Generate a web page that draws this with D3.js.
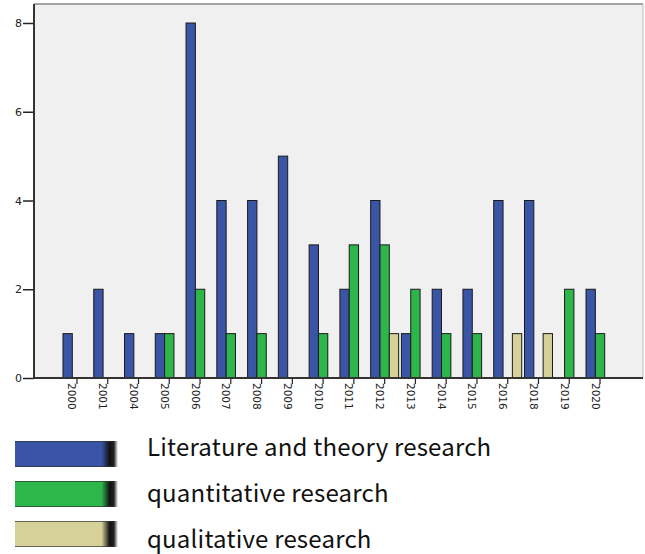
<!DOCTYPE html>
<html><head><meta charset="utf-8">
<script src="https://cdn.jsdelivr.net/npm/d3@7"></script>
<style>body{margin:0;background:#fff}svg{display:block}</style>
</head><body>
<svg id="c" width="645" height="554"></svg>
<script>
const years = ["2000","2001","2004","2005","2006","2007","2008","2009","2010","2011","2012","2013","2014","2015","2016","2018","2019","2020"];
const literature = [1,2,1,1,8,4,4,5,3,2,4,1,2,2,4,4,0,2];
const quantitative = [0,0,0,1,2,1,1,0,1,3,3,2,1,1,0,0,2,1];
const qualitative = [0,0,0,0,0,0,0,0,0,0,1,0,0,0,1,1,0,0];
const seriesNames = ["Literature and theory research","quantitative research","qualitative research"];
const colors = ["#3a55a6","#2db74b","#d6d199"];
const yTicks = [0,2,4,6,8];

const svg = d3.select("#c");
const plot = {l:34, r:643, t:4, b:378};
svg.append("rect").attr("x",plot.l).attr("y",plot.t).attr("width",plot.r-plot.l).attr("height",plot.b-plot.t).attr("fill","#f0f0f0");
svg.append("line").attr("x1",plot.l).attr("x2",plot.r).attr("y1",plot.t).attr("y2",plot.t).attr("stroke","#888").attr("stroke-width",1.5);
svg.append("line").attr("x1",plot.r).attr("x2",plot.r).attr("y1",plot.t).attr("y2",plot.b).attr("stroke","#bbb").attr("stroke-width",1);

const x = d3.scaleBand().domain(years).range([61.6,615.4]).paddingInner(0.09).paddingOuter(0.045);
const y = d3.scaleLinear().domain([0,8]).range([378,23]);
const series = [literature, quantitative, qualitative];
const xs = d3.scaleBand().domain([0,1,2]).range([0,x.bandwidth()]);

series.forEach((vals,si)=>{
  svg.append("g").selectAll("rect").data(vals.map((v,i)=>({v,yr:years[i]})).filter(d=>d.v>0))
    .join("rect")
    .attr("x",d=>x(d.yr)+xs(si))
    .attr("y",d=>y(d.v))
    .attr("width",xs.bandwidth())
    .attr("height",d=>y(0)-y(d.v))
    .attr("fill",colors[si]).attr("stroke","#1a1a1a").attr("stroke-width",1);
});

// axes
const yAxis = svg.append("g").attr("transform",`translate(${plot.l},0)`)
  .call(d3.axisLeft(y).tickValues(yTicks).tickSize(11).tickSizeOuter(0).tickPadding(1));
yAxis.select(".domain").remove();
yAxis.selectAll("text").attr("font-family","DejaVu Sans").attr("font-size",11).attr("fill","#222");
yAxis.selectAll("line").attr("stroke","#222").attr("stroke-width",1.5);
svg.append("line").attr("x1",plot.l).attr("x2",plot.l).attr("y1",plot.t).attr("y2",plot.b+1).attr("stroke","#333").attr("stroke-width",2);

const xAxis = svg.append("g").attr("transform",`translate(0,${plot.b})`)
  .call(d3.axisBottom(x).tickSize(6).tickSizeOuter(0));
xAxis.select(".domain").remove();
xAxis.selectAll("line").attr("stroke","#222").attr("stroke-width",1.2);
xAxis.selectAll("text").attr("font-family","DejaVu Sans").attr("font-size",10.5).attr("fill","#222")
  .attr("transform","rotate(90)").attr("text-anchor","start").attr("x",5).attr("y",8.5).attr("dy",0);
svg.append("line").attr("x1",plot.l).attr("x2",plot.r).attr("y1",plot.b).attr("y2",plot.b).attr("stroke","#333").attr("stroke-width",2);

// legend
const defs = svg.append("defs");
colors.forEach((c,i)=>{
  const g = defs.append("linearGradient").attr("id","g"+i).attr("x1","0").attr("x2","1");
  g.append("stop").attr("offset","0").attr("stop-color",c);
  g.append("stop").attr("offset","0.84").attr("stop-color",c);
  g.append("stop").attr("offset","0.92").attr("stop-color","#111");
  g.append("stop").attr("offset","0.96").attr("stop-color","#222");
  g.append("stop").attr("offset","1").attr("stop-color","#fff");
});
const legY = [441,481,521];
const textBase = [456,502,548];
seriesNames.forEach((n,i)=>{
  svg.append("rect").attr("x",15).attr("y",legY[i]).attr("width",103).attr("height",26).attr("fill",`url(#g${i})`);
  svg.append("line").attr("x1",15).attr("x2",113).attr("y1",legY[i]+0.5).attr("y2",legY[i]+0.5).attr("stroke","#333").attr("stroke-opacity",0.7);
  svg.append("line").attr("x1",15).attr("x2",113).attr("y1",legY[i]+25.5).attr("y2",legY[i]+25.5).attr("stroke","#333").attr("stroke-opacity",0.7);
  svg.append("text").attr("x",147).attr("y",textBase[i])
    .attr("font-family","Noto Sans CJK KR, Noto Sans").attr("font-size",24).attr("letter-spacing",0.2).attr("fill","#111").text(n);
});
</script>
</body></html>
